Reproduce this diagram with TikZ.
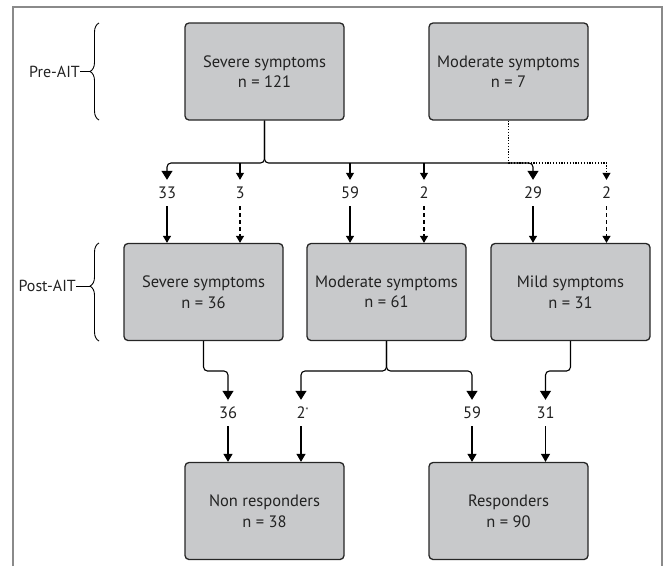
\documentclass[tikz,border=0pt]{standalone}
\usepackage{fontspec}
\setmainfont{PT Sans}
\usetikzlibrary{arrows.meta,decorations.pathreplacing}
\definecolor{boxgray}{HTML}{C8C9CB}
\definecolor{framegray}{HTML}{8A8A8A}
\definecolor{textgray}{HTML}{222222}
\begin{document}
\begin{tikzpicture}[x=1pt,y=-1pt,
  box/.style={draw=black!85, line width=1.3pt, fill=boxgray, rounded corners=4pt,
    minimum width=159pt, minimum height=97pt, inner sep=0pt, align=center,
    text=textgray, font=\fontsize{16.5}{20.5}\selectfont},
  num/.style={inner sep=0pt, minimum height=26pt, text=textgray, font=\fontsize{16.5}{18}\selectfont},
  lbl/.style={inner sep=0pt, anchor=east, text=textgray, font=\fontsize{16}{18}\selectfont},
  con/.style={line width=1.1pt, draw=black},
  bigtip/.style={-{Triangle[length=9pt,width=11pt]}},
  midtip/.style={-{Triangle[length=8pt,width=9pt]}},
  smalltip/.style={-{Triangle[length=7pt,width=8pt]}},
  dashline/.style={dash pattern=on 4pt off 3pt},
  dotline/.style={dash pattern=on 1.2pt off 1.6pt},
  bracestyle/.style={line width=0.9pt, decorate, decoration={brace,amplitude=9pt}}
]
\useasboundingbox (0,0) rectangle (664,566);
% frame
\draw[framegray, line width=1.4pt] (13,566) -- (13,7) -- (662,7) -- (662,566);

% boxes
\node[box] (pS) at (264.5,71.5) {Severe symptoms\\n = 121};
\node[box] (pM) at (508.5,71.5) {Moderate symptoms\\n = 7};
\node[box] (qS) at (203.5,292) {Severe symptoms\\n = 36};
\node[box] (qM) at (386.5,292) {Moderate symptoms\\n = 61};
\node[box] (qL) at (570.5,292) {Mild symptoms\\n = 31};
\node[box] (rN) at (264.5,511) {Non responders\\n = 38};
\node[box] (rR) at (508.5,511) {Responders\\n = 90};

% level coordinates
\coordinate (hU) at (0,163);
\coordinate (hL) at (0,371);

% number labels
\node[num] (a1) at (167,193) {33};
\node[num] (a2) at (240,193) {3};
\node[num] (a3) at (350,193) {59};
\node[num] (a4) at (424,193) {2};
\node[num] (a5) at (533,193) {29};
\node[num] (a6) at (606.5,193) {2};
\node[num] (b1) at (228,413) {36};
\node[num] (b2) at (301,413) {2\rlap{\raisebox{5pt}{\fontsize{8}{8}\selectfont *}}};
\node[num] (b3) at (472,413) {59};
\node[num] (b4) at (545.5,413) {31};

% upper branching
\draw[con,dotline,smalltip] (pM.south) -- (pM.south |- hU) -| (a6.north);
\draw[con,bigtip,rounded corners=4pt] (pS.south) -- (pS.south |- hU) -| (a1.north);
\draw[con,bigtip,rounded corners=4pt] (pS.south) -- (pS.south |- hU) -| (a5.north);
\draw[con,smalltip] (a2 |- hU) -- (a2.north);
\draw[con,smalltip] (a3 |- hU) -- (a3.north);
\draw[con,smalltip] (a4 |- hU) -- (a4.north);

% upper labels to post boxes
\draw[con,smalltip] (a1.south) -- (a1.south |- qS.north);
\draw[con,dashline,smalltip] (a2.south) -- (a2.south |- qS.north);
\draw[con,smalltip] (a3.south) -- (a3.south |- qM.north);
\draw[con,dashline,smalltip] (a4.south) -- (a4.south |- qM.north);
\draw[con,smalltip] (a5.south) -- (a5.south |- qL.north);
\draw[con,dashline,smalltip] (a6.south) -- (a6.south |- qL.north);

% lower branching
\draw[con,bigtip,rounded corners=4pt] (qS.south) -- (qS.south |- hL) -| (b1.north);
\draw[con,bigtip,rounded corners=4pt] (qM.south) -- (qM.south |- hL) -| (b2.north);
\draw[con,bigtip,rounded corners=4pt] (qM.south) -- (qM.south |- hL) -| (b3.north);
\draw[con,bigtip,rounded corners=4pt] (qL.south) -- (qL.south |- hL) -| (b4.north);

% lower labels to result boxes
\draw[con,midtip] (b1.south) -- (b1.south |- rN.north);
\draw[con,midtip] (b2.south) -- (b2.south |- rN.north);
\draw[con,midtip] (b3.south) -- (b3.south |- rR.north);
\draw[con,midtip] (b4.south) -- (b4.south |- rR.north);

% braces and side labels
\draw[bracestyle] (99,120) -- (99,23);
\coordinate (preTip) at (90,71.5);
\node[lbl] (preL) at (80,71.5) {Pre-AIT};
\draw[line width=0.9pt] (preL.east) -- (preTip);

\draw[bracestyle, decoration={aspect=0.56}] (99,341) -- (99,243);
\coordinate (postTip) at (90,286);
\node[lbl] (postL) at (76,286) {Post-AIT};
\draw[line width=0.9pt] (postL.east) -- (postTip);
\end{tikzpicture}
\end{document}
